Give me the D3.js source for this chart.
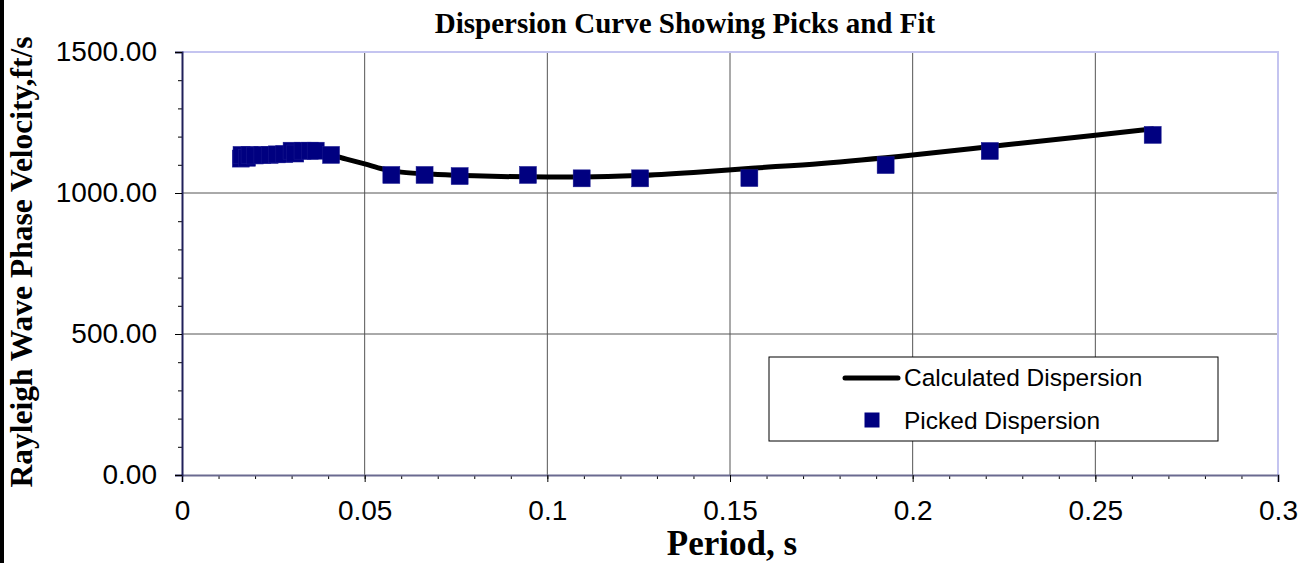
<!DOCTYPE html>
<html>
<head>
<meta charset="utf-8">
<script src="https://cdn.jsdelivr.net/npm/d3@7/dist/d3.min.js"></script>
<style>
  body { margin: 0; background: #fff; }
  svg { display: block; }
</style>
</head>
<body>
<div id="chart"></div>
<script>
// picked dispersion points (period s, velocity ft/s)
const pickPeriod = [0.0161, 0.0163, 0.0178, 0.0185, 0.020, 0.022, 0.024, 0.026, 0.028, 0.030, 0.031, 0.033, 0.035, 0.0366, 0.0408,
  0.0573, 0.0664, 0.0760, 0.0947, 0.1094, 0.1254, 0.1553, 0.1926, 0.2211, 0.2657];
const pickVelocity = [1122, 1135, 1125, 1135, 1133, 1135, 1135, 1137, 1138, 1150, 1140, 1150, 1150, 1150, 1135,
  1064, 1064, 1060, 1064, 1052, 1052, 1053, 1099, 1149, 1206];

// calculated dispersion curve
const fitPeriod = [0.016, 0.02, 0.03, 0.038, 0.045, 0.05, 0.055, 0.06, 0.07, 0.08, 0.1, 0.11, 0.125, 0.14, 0.155, 0.175, 0.2, 0.225, 0.25, 0.266];
const fitVelocity = [1130, 1138, 1145, 1142, 1120, 1103, 1085, 1074, 1066, 1061, 1057, 1057, 1062, 1073, 1087, 1105, 1135, 1170, 1205, 1228];

const xTicks = [0, 0.05, 0.1, 0.15, 0.2, 0.25, 0.3];
const yTicks = [0, 500, 1000, 1500];
const legendLabels = ["Calculated Dispersion", "Picked Dispersion"];

const margin = { top: 52, right: 31, bottom: 88, left: 182 },
  width = 1309 - margin.left - margin.right,
  height = 563 - margin.top - margin.bottom;

const root = d3.select("#chart")
  .append("svg")
  .attr("width", 1309)
  .attr("height", 563);

// black strip on the left edge
root.append("rect").attr("x", 0).attr("y", 0).attr("width", 4).attr("height", 563).attr("fill", "#000");

const svg = root.append("g")
  .attr("transform", `translate(${margin.left},${margin.top})`);

const x = d3.scaleLinear().domain([0, 0.3]).range([0, width]);
const y = d3.scaleLinear().domain([0, 1500]).range([height, 0]);

// grid lines
svg.selectAll(".vgrid")
  .data(xTicks.slice(1, -1))
  .join("line")
  .attr("x1", d => x(d)).attr("x2", d => x(d))
  .attr("y1", 0).attr("y2", height)
  .attr("stroke", "#555").attr("stroke-width", 1);

svg.selectAll(".hgrid")
  .data(yTicks.slice(1, -1))
  .join("line")
  .attr("x1", 0).attr("x2", width)
  .attr("y1", d => y(d)).attr("y2", d => y(d))
  .attr("stroke", "#555").attr("stroke-width", 1);

// top and right border
svg.append("path")
  .attr("d", `M0,0H${width}V${height}`)
  .attr("fill", "none").attr("stroke", "#c4c4f0").attr("stroke-width", 2);

// minor ticks
const xMinor = d3.range(0, 31).map(i => i / 100);
const yMinor = d3.range(0, 16).map(i => i * 100);

const xAxisMinor = svg.append("g")
  .attr("transform", `translate(0,${height})`)
  .call(d3.axisBottom(x).tickValues(xMinor).tickSize(4).tickFormat(""));
const yAxisMinor = svg.append("g")
  .call(d3.axisLeft(y).tickValues(yMinor).tickSize(4).tickFormat(""));

const xAxis = svg.append("g")
  .attr("transform", `translate(0,${height})`)
  .call(d3.axisBottom(x).tickValues(xTicks).tickSize(7).tickPadding(18).tickFormat(d => String(d)));
const yAxis = svg.append("g")
  .call(d3.axisLeft(y).tickValues(yTicks).tickSize(7).tickPadding(18).tickFormat(d3.format(".2f")));

[xAxisMinor, yAxisMinor].forEach(g => {
  g.select(".domain").remove();
  g.selectAll("line").attr("stroke", "#000");
});
xAxis.select(".domain").attr("stroke", "#6a6a90").attr("stroke-width", 2);
yAxis.select(".domain").attr("stroke", "#20205a").attr("stroke-width", 2);
[xAxis, yAxis].forEach(g => {
  g.selectAll("line").attr("stroke", "#000");
  g.selectAll("text")
    .attr("fill", "#000")
    .style("font-family", "'Liberation Sans', Arial, sans-serif")
    .style("font-size", "28px");
});

// fit curve
const fitData = fitPeriod.map((p, i) => [p, fitVelocity[i]]);
svg.append("path")
  .datum(fitData)
  .attr("d", d3.line().x(d => x(d[0])).y(d => y(d[1])).curve(d3.curveMonotoneX))
  .attr("fill", "none")
  .attr("stroke", "#000")
  .attr("stroke-width", 5)
  .attr("stroke-linejoin", "round");

// picked points
const sq = 17;
svg.selectAll(".pick")
  .data(pickPeriod.map((p, i) => [p, pickVelocity[i]]))
  .join("rect")
  .attr("x", d => x(d[0]) - sq / 2)
  .attr("y", d => y(d[1]) - sq / 2)
  .attr("width", sq).attr("height", sq)
  .attr("fill", "#000080")
  .attr("stroke", "#1a1a90").attr("stroke-width", 0.5);

// legend
const legend = root.append("g").attr("transform", "translate(769,357)");
legend.append("rect")
  .attr("width", 449).attr("height", 84)
  .attr("fill", "#fff").attr("stroke", "#000").attr("stroke-width", 1);
legend.append("line")
  .attr("x1", 76).attr("x2", 129).attr("y1", 21).attr("y2", 21)
  .attr("stroke", "#000").attr("stroke-width", 5).attr("stroke-linecap", "round");
legend.append("rect")
  .attr("x", 104 - sq / 2).attr("y", 64 - sq / 2)
  .attr("width", sq - 2).attr("height", sq - 2)
  .attr("fill", "#000080");
legend.selectAll(".ltext")
  .data(legendLabels)
  .join("text")
  .attr("x", 135)
  .attr("y", (d, i) => 29 + i * 43)
  .style("font-family", "'Liberation Sans', Arial, sans-serif")
  .style("font-size", "24.5px")
  .text(d => d);

// titles
root.append("text")
  .attr("x", 685).attr("y", 33)
  .attr("text-anchor", "middle")
  .style("font-family", "'Liberation Serif', 'Times New Roman', serif")
  .style("font-weight", "bold")
  .style("font-size", "29px")
  .text("Dispersion Curve Showing Picks and Fit");

root.append("text")
  .attr("transform", "translate(32,262) rotate(-90)")
  .attr("text-anchor", "middle")
  .style("font-family", "'Liberation Serif', 'Times New Roman', serif")
  .style("font-weight", "bold")
  .style("font-size", "31.5px")
  .text("Rayleigh Wave Phase Velocity,ft/s");

root.append("text")
  .attr("x", 732).attr("y", 555)
  .attr("text-anchor", "middle")
  .style("font-family", "'Liberation Serif', 'Times New Roman', serif")
  .style("font-weight", "bold")
  .style("font-size", "35px")
  .text("Period, s");
</script>
</body>
</html>
